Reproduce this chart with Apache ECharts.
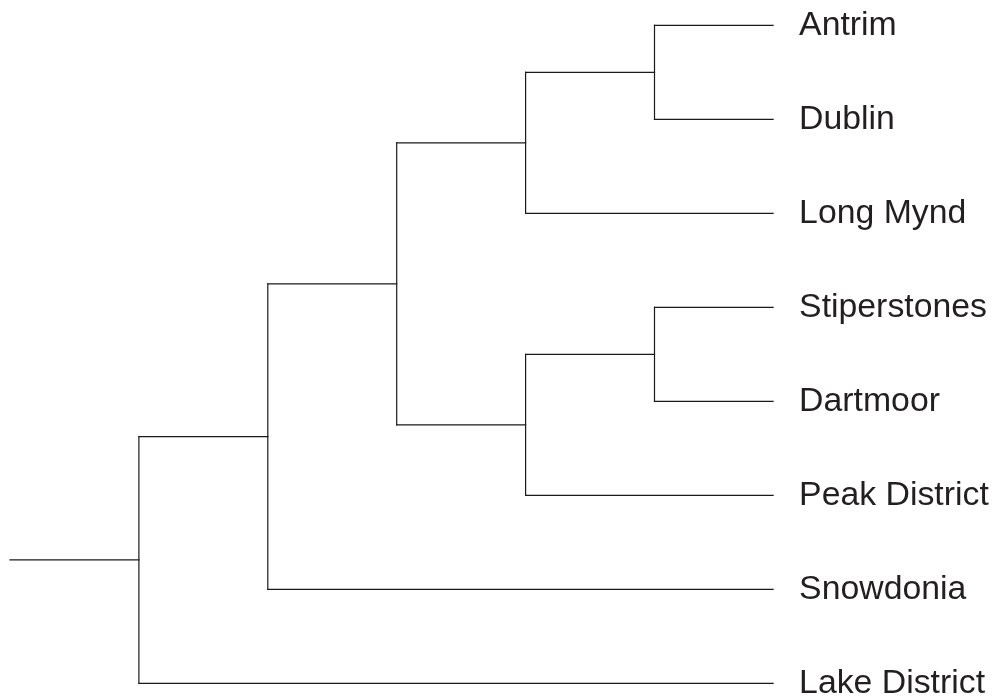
<!DOCTYPE html>
<html>
<head>
<meta charset="utf-8">
<script src="https://cdn.jsdelivr.net/npm/echarts@6/dist/echarts.min.js"></script>
<style>html,body{margin:0;padding:0;background:#fff}#c{width:995px;height:696px}</style>
</head>
<body>
<div id="c"></div>
<script>
// Leaf order (top to bottom)
const leaves = ['Antrim', 'Dublin', 'Long Mynd', 'Stiperstones', 'Dartmoor', 'Peak District', 'Snowdonia', 'Lake District'];
// Tree structure (nested clusters)
const tree = [[[[['Antrim', 'Dublin'], 'Long Mynd'], [['Stiperstones', 'Dartmoor'], 'Peak District']], 'Snowdonia'], 'Lake District'];
// Depth position of leaf tips and of the root stem start
const leafDepth = 5.92;
const rootStemStart = 0;

const segments = [];
function layout(node, depth) {
  if (typeof node === 'string') {
    return { x: leafDepth, y: leaves.indexOf(node) };
  }
  const kids = node.map(c => layout(c, depth + 1));
  const ys = kids.map(k => k.y);
  const y = (Math.min(...ys) + Math.max(...ys)) / 2;
  kids.forEach(k => segments.push([depth, k.y, k.x, k.y]));
  segments.push([depth, Math.min(...ys), depth, Math.max(...ys)]);
  return { x: depth, y: y };
}
const root = layout(tree, 1);
segments.push([rootStemStart, root.y, root.x, root.y]);

const leafPoints = leaves.map((n, i) => [leafDepth, i, n]);

const chart = echarts.init(document.getElementById('c'), null, { renderer: 'canvas' });
chart.setOption({
  animation: false,
  backgroundColor: '#fff',
  grid: { left: 10, right: 82.7, top: 25.3, bottom: 12.7, containLabel: false },
  xAxis: { type: 'value', min: 0, max: 7, show: false },
  yAxis: { type: 'value', min: 0, max: 7, inverse: true, show: false },
  series: [
    {
      type: 'custom',
      data: segments,
      encode: { x: [0, 2], y: [1, 3] },
      renderItem: function (params, api) {
        const p1 = api.coord([api.value(0), api.value(1)]);
        const p2 = api.coord([api.value(2), api.value(3)]);
        return {
          type: 'line',
          shape: { x1: p1[0], y1: p1[1], x2: p2[0], y2: p2[1] },
          style: { stroke: '#1a1a1a', lineWidth: 1.2, lineCap: 'square' }
        };
      },
      silent: true
    },
    {
      type: 'scatter',
      data: leafPoints,
      symbolSize: 0,
      silent: true,
      itemStyle: { opacity: 1 },
      label: {
        show: true,
        position: 'right',
        distance: 26,
        formatter: p => p.data[2],
        fontFamily: 'Liberation Sans, Arial, sans-serif',
        fontSize: 33.8,
        color: '#231f20',
        opacity: 1,
        textBorderWidth: 0
      }
    }
  ]
});
</script>
</body>
</html>
